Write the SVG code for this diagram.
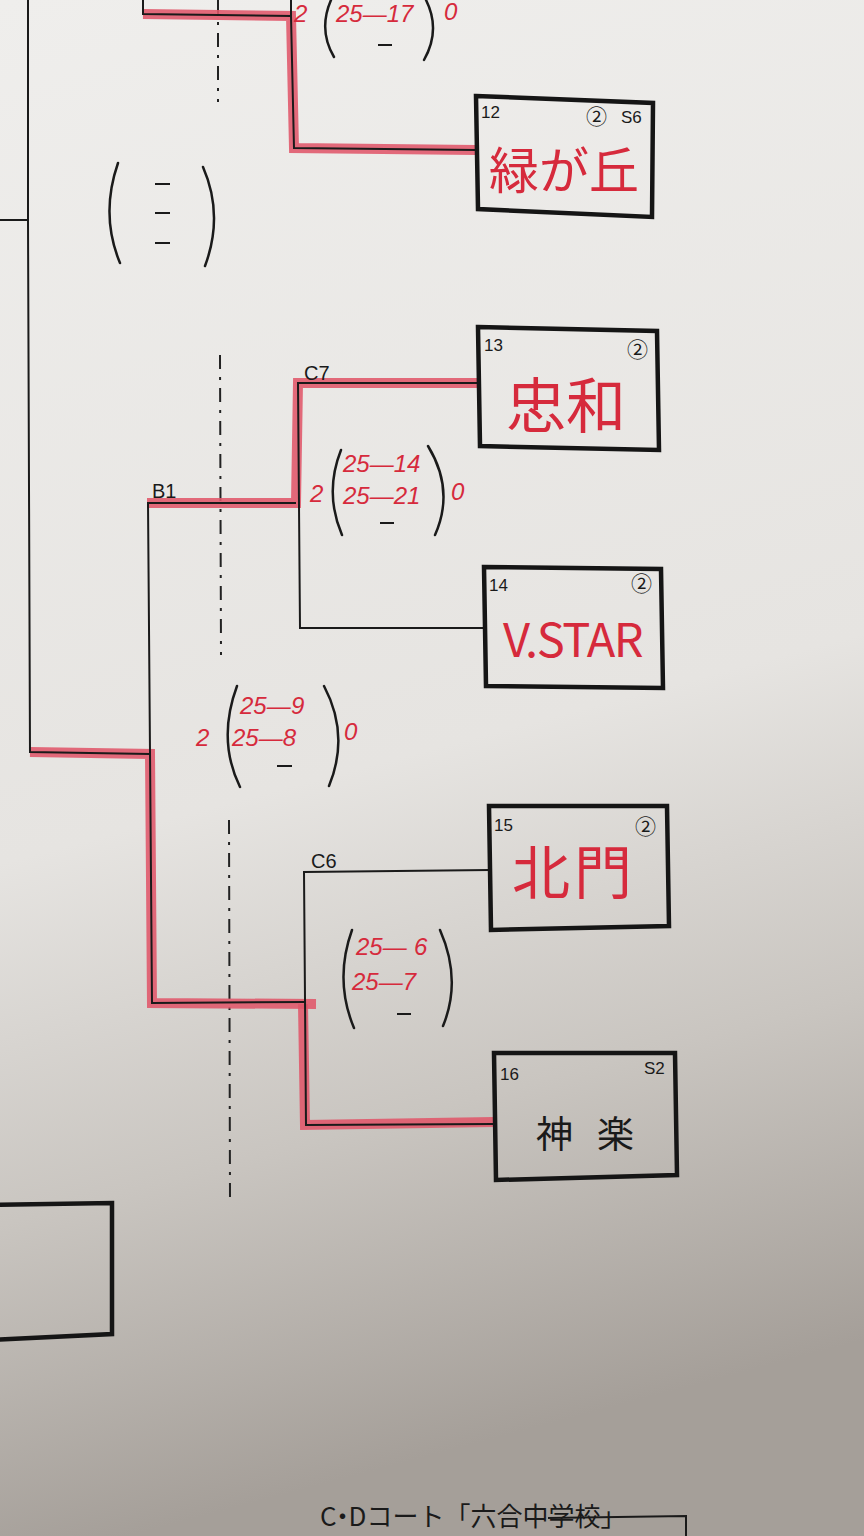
<svg xmlns="http://www.w3.org/2000/svg" width="864" height="1536" viewBox="0 0 864 1536">
<defs>
<linearGradient id="paper" x1="0" y1="0" x2="0.15" y2="1">
<stop offset="0" stop-color="#efeeec"/>
<stop offset="0.55" stop-color="#e6e4e1"/>
<stop offset="0.78" stop-color="#c9c5c0"/>
<stop offset="1" stop-color="#a59f99"/>
</linearGradient>
<style>
.ln{fill:none;stroke:#1a1a1a;stroke-width:2}
.hl{fill:none;stroke:#e0566a;stroke-width:10;stroke-linejoin:miter;opacity:0.88}
.box{fill:none;stroke:#151515;stroke-width:4.5}
.dash{fill:none;stroke:#222;stroke-width:2;stroke-dasharray:14 8 3 8}
.num{font-family:"Liberation Sans","Noto Sans CJK JP",sans-serif;font-size:17px;fill:#1a1a1a}
.circ{font-family:"Noto Sans CJK JP",sans-serif;font-size:21px;fill:#1a1a1a}
.lbl{font-family:"Liberation Sans",sans-serif;font-size:20px;fill:#1a1a1a}
.red{font-family:"Noto Sans CJK JP",sans-serif;fill:#d62a3c}
.sc{font-family:"Liberation Sans",sans-serif;font-size:24px;font-style:italic;fill:#d62a3c}
.brk{fill:none;stroke:#1a1a1a;stroke-width:2.5;stroke-linecap:round}
.dsh{stroke:#1a1a1a;stroke-width:2}
</style>
</defs>
<rect width="864" height="1536" fill="url(#paper)"/>

<g id="guides">
<line class="dash" x1="218" y1="0" x2="218" y2="102"/>
<line class="dash" x1="220" y1="355" x2="221" y2="655"/>
<line class="dash" x1="229" y1="820" x2="230" y2="1198"/>
</g>

<g id="connectors">
<polyline class="hl" points="143,14 291,16 294,148 476,150"/>
<polyline class="hl" points="147,503 296,503 298,383 478,383"/>
<polyline class="hl" points="30,752 150,754 152,1003 316,1004"/>
<polyline class="hl" points="303,1004 305,1125 494,1122"/>
<polyline class="ln" points="143,0 143,14 291,16 294,148 476,150"/>
<line class="ln" x1="291" y1="0" x2="291" y2="16"/>
<polyline class="ln" points="28,0 28,220 0,220"/>
<polyline class="ln" points="28,220 30,752 150,754"/>
<polyline class="ln" points="478,383 298,383 300,628 484,628"/>
<polyline class="ln" points="147,503 296,503"/>
<polyline class="ln" points="148,503 152,1003 306,1002"/>
<polyline class="ln" points="490,870 304,872 306,1125 494,1124"/>
</g>

<g id="score-top">
<text class="sc" x="294" y="22">2</text>
<path class="brk" d="M331,0 Q318,30 334,57"/>
<text class="sc" x="336" y="22">25—17</text>
<line class="dsh" x1="378" y1="45" x2="392" y2="45"/>
<path class="brk" d="M426,0 Q441,30 424,60"/>
<text class="sc" x="444" y="20">0</text>
</g>

<g id="score-empty">
<path class="brk" d="M118,163 Q100,215 120,263"/>
<line class="dsh" x1="155" y1="184" x2="170" y2="184"/>
<line class="dsh" x1="155" y1="213" x2="170" y2="213"/>
<line class="dsh" x1="155" y1="243" x2="170" y2="243"/>
<path class="brk" d="M203,167 Q224,215 205,266"/>
</g>

<g id="box12">
<polygon class="box" points="476,96 653,103 652,217 478,209"/>
<text class="num" x="481" y="118">12</text>
<text class="circ" x="586" y="124">②</text>
<text class="num" x="621" y="123">S6</text>
<text class="red" x="489" y="189" font-size="50">緑が丘</text>
</g>

<g id="box13">
<polygon class="box" points="478,327 657,331 659,450 480,446"/>
<text class="num" x="484" y="351">13</text>
<text class="circ" x="627" y="357">②</text>
<text class="red" x="506" y="428" font-size="60">忠和</text>
</g>
<text class="lbl" x="304" y="380">C7</text>

<g id="score-c7">
<text class="sc" x="310" y="502">2</text>
<path class="brk" d="M341,450 Q324,493 342,535"/>
<text class="sc" x="343" y="472">25—14</text>
<text class="sc" x="343" y="504">25—21</text>
<line class="dsh" x1="380" y1="523" x2="394" y2="523"/>
<path class="brk" d="M428,446 Q455,490 435,535"/>
<text class="sc" x="451" y="500">0</text>
</g>

<g id="box14">
<polygon class="box" points="484,567 661,569 663,688 486,686"/>
<text class="num" x="489" y="591">14</text>
<text class="circ" x="631" y="591">②</text>
<text class="red" x="503" y="657" font-size="47" letter-spacing="-1.5">V.STAR</text>
</g>
<text class="lbl" x="152" y="498">B1</text>

<g id="score-b1">
<text class="sc" x="196" y="746">2</text>
<path class="brk" d="M237,686 Q217,740 240,787"/>
<text class="sc" x="240" y="714">25—</text>
<text class="sc" x="291" y="714">9</text>
<text class="sc" x="232" y="746">25—8</text>
<line class="dsh" x1="277" y1="766" x2="292" y2="766"/>
<path class="brk" d="M324,686 Q350,735 329,786"/>
<text class="sc" x="344" y="740">0</text>
</g>

<g id="box15">
<polygon class="box" points="489,806 667,806 669,926 491,930"/>
<text class="num" x="494" y="831">15</text>
<text class="circ" x="635" y="834">②</text>
<text class="red" x="512" y="894" font-size="58" letter-spacing="4">北門</text>
</g>
<text class="lbl" x="311" y="868">C6</text>

<g id="score-c6">
<path class="brk" d="M352,930 Q334,980 354,1028"/>
<text class="sc" x="356" y="955">25—</text>
<text class="sc" x="414" y="955">6</text>
<text class="sc" x="352" y="990">25—7</text>
<line class="dsh" x1="397" y1="1014" x2="411" y2="1014"/>
<path class="brk" d="M440,930 Q462,980 443,1026"/>
</g>

<g id="box16">
<polygon class="box" points="494,1053 675,1053 677,1175 496,1180"/>
<text class="num" x="500" y="1080">16</text>
<text class="num" x="644" y="1074">S2</text>
<text x="536" y="1148" font-family="Noto Sans CJK JP,sans-serif" font-size="37" fill="#1a1a1a" letter-spacing="24">神楽</text>
</g>

<g id="box-bottom-left">
<polygon class="box" points="-10,1205 112,1203 112,1334 -10,1340"/>
</g>

<g id="footer">
<text x="320" y="1526" font-family="Noto Sans CJK JP,sans-serif" font-size="26" fill="#1a1a1a"><tspan letter-spacing="-7">C・D</tspan><tspan dx="7">コート「六合中学校」</tspan></text>
<polyline class="ln" points="548,1518 686,1516 686,1536"/>
</g>
</svg>
